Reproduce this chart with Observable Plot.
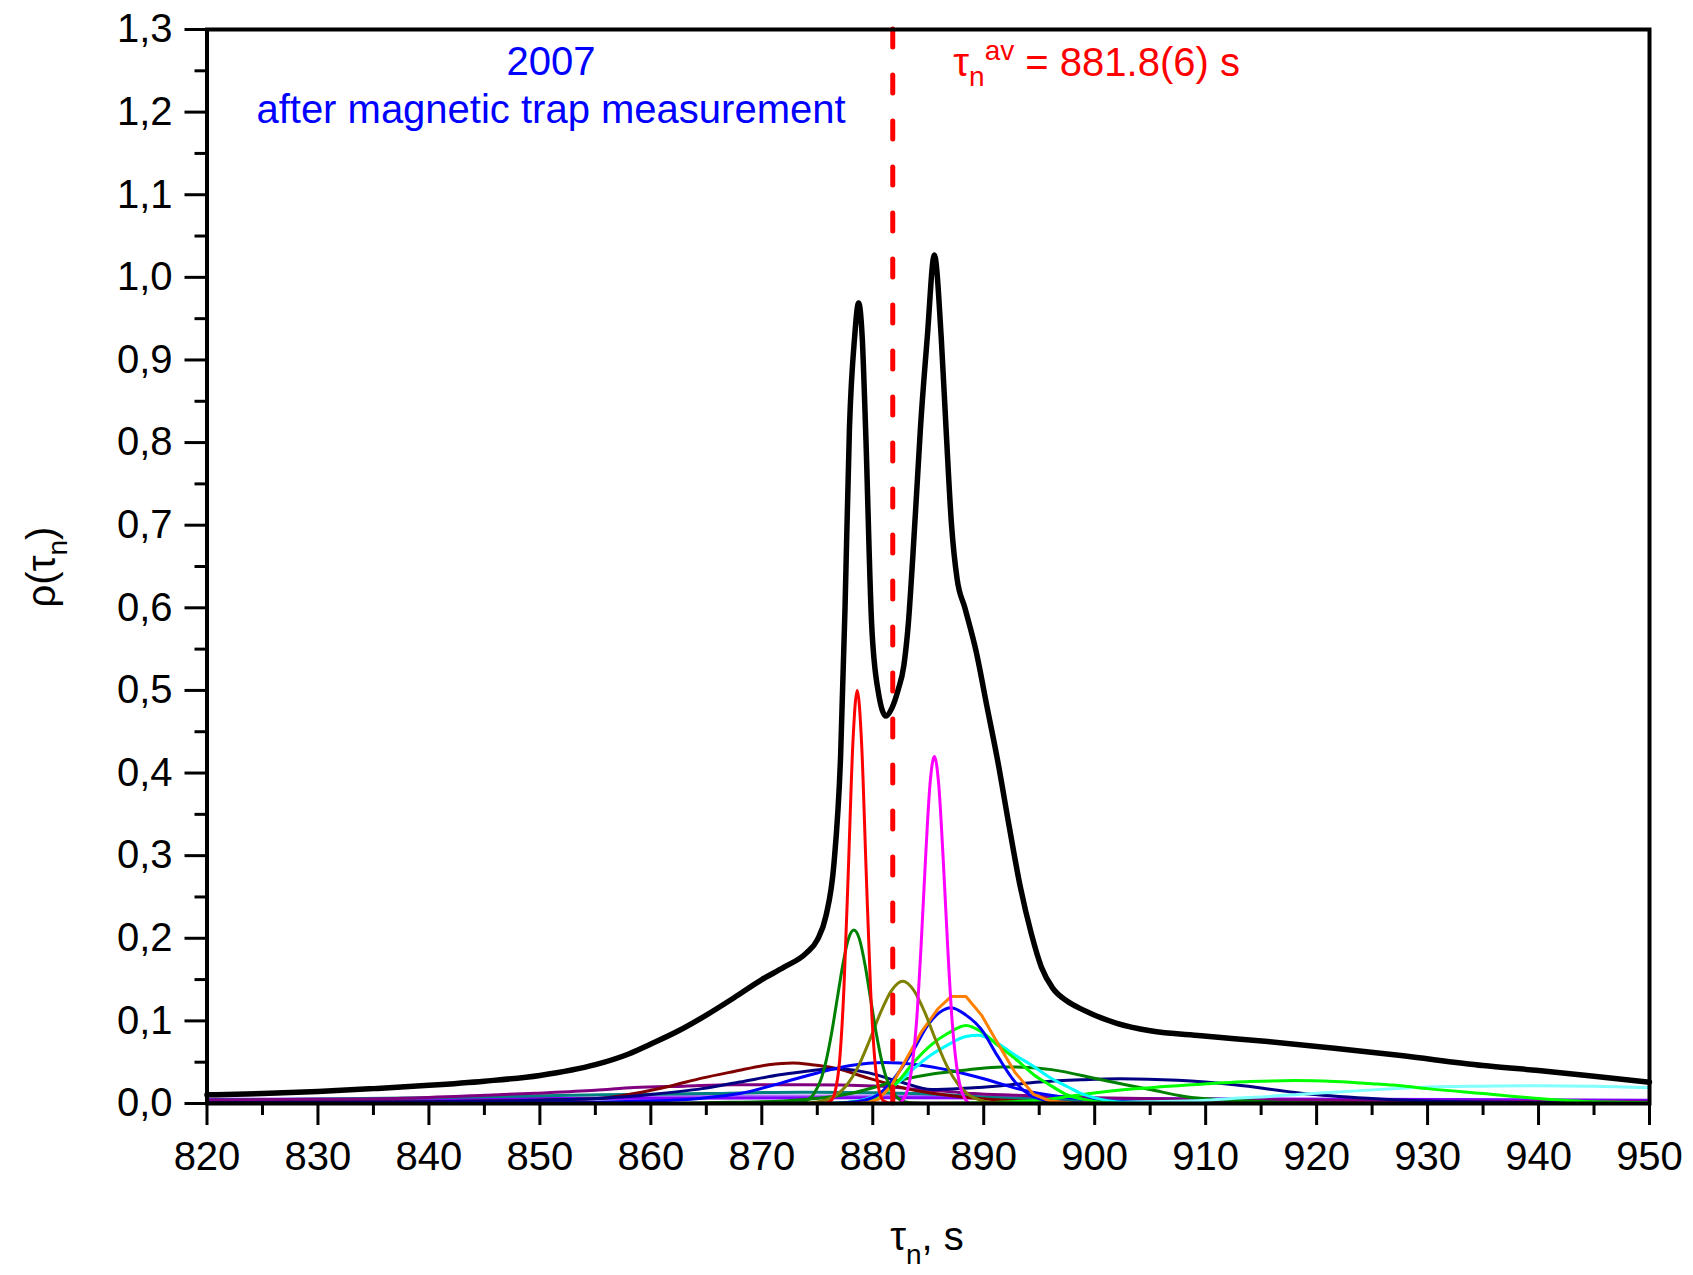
<!DOCTYPE html>
<html><head><meta charset="utf-8">
<script src="https://cdn.jsdelivr.net/npm/d3@7"></script>
<script src="https://cdn.jsdelivr.net/npm/@observablehq/plot@0.6"></script>
<style>html,body{margin:0;padding:0;background:#fff;} svg{display:block}</style>
</head><body><div id="chart"></div><script>
// ---- tick values ----
const xMajorTicks = [820, 830, 840, 850, 860, 870, 880, 890, 900, 910, 920, 930, 940, 950];
const xMinorTicks = [825, 835, 845, 855, 865, 875, 885, 895, 905, 915, 925, 935, 945];
const yMajorTicks = [0, 0.1, 0.2, 0.3, 0.4, 0.5, 0.6, 0.7, 0.8, 0.9, 1.0, 1.1, 1.2, 1.3];
const yMinorTicks = [0.05, 0.15, 0.25, 0.35, 0.45, 0.55, 0.65, 0.75, 0.85, 0.95, 1.05, 1.15, 1.25];
const tauAverage = 881.8;

// ---- series: [tau_n, rho] ----
const sumCurve = [[820,0.0105],[825,0.012],[830,0.0145],[835,0.018],[840,0.022],[845,0.027],[850,0.034],[855,0.047],[858,0.060],[860,0.072],[862.5,0.088],[865,0.107],[867.5,0.128],[870,0.150],[872,0.165],[874,0.182],[875,0.198],[875.8,0.228],[876.5,0.29],[877.1,0.42],[877.5,0.60],[877.9,0.818],[878.36,0.927],[878.72,0.969],[879.05,0.927],[879.35,0.818],[879.9,0.58],[880.5,0.498],[881.2,0.469],[881.7,0.478],[882.27,0.50],[882.8,0.53],[883.2,0.58],[883.6,0.66],[884.0,0.75],[884.3,0.818],[884.91,0.927],[885.55,1.027],[886.17,0.927],[886.6,0.818],[887.1,0.70],[887.6,0.635],[888.3,0.60],[889.32,0.547],[890.3,0.48],[891.27,0.414],[892.3,0.335],[893.3,0.262],[894.3,0.205],[895.2,0.165],[896.2,0.14],[897.5,0.124],[899,0.113],[902,0.097],[905,0.088],[909.6,0.082],[915.6,0.075],[921.6,0.067],[927.6,0.058],[935,0.046],[940,0.040],[945,0.033],[950,0.0257]];
const redPeak = [[820,0],[875.5,0],[876.2,0.003],[876.6,0.014],[877.0,0.05],[877.4,0.139],[877.8,0.283],[878.2,0.434],[878.6,0.50],[879.0,0.434],[879.4,0.283],[879.8,0.139],[880.2,0.05],[880.6,0.014],[881.0,0.003],[881.7,0],[950,0]];
const magentaPeak = [[820,0],[882.3,0],[882.75,0.005],[883.15,0.017],[883.55,0.046],[883.95,0.10],[884.35,0.19],[884.75,0.295],[885.15,0.385],[885.55,0.42],[885.95,0.385],[886.35,0.295],[886.75,0.19],[887.15,0.10],[887.55,0.046],[887.95,0.017],[888.35,0.005],[888.8,0],[950,0]];
const greenPeak = [[820,0],[872,0],[873.3,0.0008],[874.3,0.006],[874.8,0.014],[875.3,0.028],[875.8,0.052],[876.3,0.086],[876.8,0.127],[877.3,0.168],[877.8,0.199],[878.3,0.21],[878.8,0.199],[879.3,0.168],[879.8,0.127],[880.3,0.086],[880.8,0.052],[881.3,0.028],[881.8,0.014],[882.3,0.006],[883.3,0.0008],[885,0],[950,0]];
const olivePeak = [[820,0],[873,0],[874.7,0.0013],[875.7,0.004],[876.7,0.010],[877.7,0.023],[878.7,0.045],[879.7,0.076],[880.7,0.110],[881.7,0.137],[882.7,0.148],[883.7,0.137],[884.7,0.110],[885.7,0.076],[886.7,0.045],[887.7,0.023],[888.7,0.010],[889.7,0.004],[890.7,0.0013],[893,0],[950,0]];
const orangePeak = [[820,0],[878.5,0],[879.5,0.001],[880.5,0.005],[881.7,0.022],[883.2,0.058],[884.4,0.087],[885.9,0.115],[887.07,0.1296],[888.4,0.1296],[889.8,0.107],[891.3,0.072],[892.8,0.038],[894.5,0.011],[896,0.003],[898,0.0005],[900,0],[950,0]];
const bluePeak = [[820,0],[876,0],[878.5,0.002],[880.47,0.0105],[881.96,0.031],[883.76,0.067],[884.96,0.095],[886.0,0.110],[887.07,0.116],[888.4,0.107],[889.77,0.09],[891.27,0.057],[892.77,0.027],[894.2,0.010],[896,0.003],[898,0.001],[900,0],[950,0]];
const limePeak = [[820,0],[876,0],[878.5,0.002],[880.77,0.0105],[882.27,0.0266],[883.77,0.051],[885.27,0.071],[886.77,0.085],[888.4,0.0945],[889.77,0.087],[891.3,0.07],[892.77,0.055],[894.6,0.034],[895.77,0.024],[897.6,0.010],[899.1,0.005],[901,0.001],[903,0],[950,0]];
const cyanPeak = [[820,0],[876,0],[879,0.004],[880.77,0.0125],[882.27,0.025],[883.77,0.043],[885.27,0.059],[886.77,0.071],[888.4,0.081],[889.5,0.0825],[891.0,0.075],[892.77,0.059],[894.6,0.044],[895.77,0.033],[897.6,0.020],[899,0.011],[900.6,0.005],[903,0.001],[906,0],[950,0]];
const limeBroad = [[820,0],[885,0],[890,0.001],[895,0.004],[899.1,0.0113],[903.6,0.0178],[909.6,0.0234],[914,0.0265],[918,0.0277],[921.6,0.0266],[925,0.024],[927.6,0.0215],[930,0.018],[935,0.012],[940,0.006],[945,0.002],[950,0.001]];
const cyanBroad = [[820,0],[895,0],[900,0.001],[905,0.002],[910,0.004],[912.6,0.0064],[915,0.008],[918.6,0.0113],[922,0.014],[927.6,0.0185],[930,0.020],[935,0.021],[940,0.0215],[945,0.021],[950,0.019]];
const greenBroad = [[820,0],[862,0],[865,0.001],[870,0.002],[873.6,0.0045],[878.1,0.0125],[882.6,0.0287],[885.5,0.036],[888.6,0.0408],[891.6,0.0443],[893.5,0.044],[896.1,0.041],[900.6,0.0287],[905.1,0.0166],[908.1,0.0085],[912.6,0.004],[918,0.001],[925,0],[950,0]];
const navyBroad = [[820,0.001],[840,0.002],[850,0.004],[855.6,0.0064],[860,0.011],[864.6,0.018],[868,0.026],[871.8,0.035],[874,0.039],[876.5,0.042],[879.3,0.038],[882.3,0.027],[885.3,0.017],[888.3,0.0185],[891.6,0.0215],[895,0.026],[898.8,0.0287],[902.3,0.030],[907.5,0.028],[912.6,0.0226],[918.6,0.0125],[924.6,0.0064],[930,0.003],[940,0.001],[950,0]];
const blueBroad = [[820,0],[850,0.001],[860,0.003],[864.6,0.0064],[868,0.012],[871.8,0.025],[875,0.037],[878,0.046],[881,0.0497],[884,0.047],[887,0.040],[890,0.030],[893,0.018],[896,0.010],[900,0.004],[905,0.001],[910,0],[950,0]];
const maroonBroad = [[820,0.001],[840,0.002],[850,0.004],[855.6,0.0064],[858.5,0.012],[861.6,0.0206],[864.6,0.0307],[867.5,0.0388],[870.6,0.0469],[872.8,0.049],[874.5,0.047],[876.6,0.0428],[879.6,0.0307],[881.1,0.025],[883,0.018],[885.6,0.012],[888,0.008],[892,0.004],[900,0.001],[950,0]];
const purpleBroad = [[820,0.004],[830,0.005],[837.6,0.0064],[845,0.010],[849.6,0.0125],[855,0.016],[858.5,0.0194],[863,0.021],[867.5,0.0226],[873.6,0.0226],[880.8,0.021],[884,0.017],[886.8,0.0145],[889,0.012],[892.8,0.010],[900,0.007],[910,0.005],[930,0.003],[950,0.002]];
const tealBroad = [[820,0.004],[840,0.007],[855.6,0.0105],[865,0.012],[873.6,0.0137],[880,0.013],[885,0.0115],[890,0.008],[895,0.005],[900,0.003],[910,0.0015],[950,0.0005]];
const violetFlat = [[820,0.005],[850,0.006],[880,0.007],[900,0.006],[925,0.005],[950,0.004]];
const lavenderFlat = [[820,0.003],[850,0.006],[870,0.009],[885,0.009],[900,0.005],[950,0.003]];

// ---- styles (kept apart from the data) ----
const components = [
  {data: lavenderFlat, color: "#b070ff", curve: "monotone-x"},
  {data: violetFlat, color: "#8000ff", curve: "monotone-x"},
  {data: tealBroad, color: "#008080", curve: "monotone-x"},
  {data: purpleBroad, color: "#800080", curve: "monotone-x"},
  {data: maroonBroad, color: "#800000", curve: "monotone-x"},
  {data: navyBroad, color: "#000080", curve: "monotone-x"},
  {data: blueBroad, color: "#0000ff", curve: "monotone-x"},
  {data: greenBroad, color: "#008000", curve: "monotone-x"},
  {data: cyanBroad, color: "#80ffff", curve: "monotone-x"},
  {data: limeBroad, color: "#00ff00", curve: "monotone-x"},
  {data: cyanPeak, color: "#00ffff", curve: "monotone-x"},
  {data: limePeak, color: "#00ff00", curve: "monotone-x"},
  {data: bluePeak, color: "#0000ff", curve: "monotone-x"},
  {data: orangePeak, color: "#ff8000", curve: "linear"},
  {data: olivePeak, color: "#808000", curve: "monotone-x"},
  {data: greenPeak, color: "#008000", curve: "monotone-x"},
  {data: magentaPeak, color: "#ff00ff", curve: "monotone-x"},
  {data: redPeak, color: "#ff0000", curve: "monotone-x"}
];

const FONT = "'Liberation Sans', Arial, sans-serif";
const fmtY = d => d.toFixed(1).replace(".", ",");

const chart = Plot.plot({
  width: 1693,
  height: 1275,
  marginLeft: 206.5,
  marginRight: 44,
  marginTop: 29,
  marginBottom: 172,
  style: {fontFamily: FONT, background: "white", color: "black", overflow: "visible"},
  x: {domain: [820, 950]},
  y: {domain: [0, 1.3]},
  marks: [
    ...components.map(c => Plot.line(c.data, {x: d => d[0], y: d => d[1], stroke: c.color, strokeWidth: 3, curve: c.curve})),
    Plot.line(sumCurve, {x: d => d[0], y: d => d[1], stroke: "black", strokeWidth: 5.5, curve: "monotone-x", strokeLinejoin: "round"}),
    Plot.ruleX([tauAverage], {stroke: "#ff0000", strokeWidth: 5, strokeDasharray: "18,28", strokeLinecap: "round"}),
    Plot.text(["2007"], {x: 851, y: 1.260, text: d => d, fill: "#0000ff", fontSize: 40, textAnchor: "middle", fontFamily: FONT}),
    Plot.text(["after magnetic trap measurement"], {x: 851, y: 1.202, text: d => d, fill: "#0000ff", fontSize: 40, textAnchor: "middle", fontFamily: FONT}),
    Plot.axisX({ticks: xMinorTicks, tickSize: 12, tickFormat: () => "", strokeWidth: 3, label: null}),
    Plot.axisX({ticks: xMajorTicks, tickSize: 22, tickPadding: 16, tickFormat: d => String(d), strokeWidth: 3, fontSize: 40, label: null}),
    Plot.axisY({ticks: yMinorTicks, tickSize: 12, tickFormat: () => "", strokeWidth: 3, label: null}),
    Plot.axisY({ticks: yMajorTicks, tickSize: 22, tickPadding: 12.5, tickFormat: fmtY, strokeWidth: 3, fontSize: 40, label: null}),
    Plot.frame({stroke: "black", strokeWidth: 4})
  ]
});

document.getElementById("chart").appendChild(chart);

// ---- rich text labels (sub/superscripts) ----
const svg = d3.select(chart);
const sx = chart.scale("x"), sy = chart.scale("y");

// red annotation
const red = svg.append("text")
  .attr("x", sx.apply(887.3)).attr("y", sy.apply(1.243)).attr("text-anchor", "start")
  .attr("fill", "#ff0000").attr("font-size", 40).attr("font-family", FONT);
red.append("tspan").text("τ");
red.append("tspan").attr("font-size", 28).attr("dy", 10).text("n");
red.append("tspan").attr("font-size", 28).attr("dy", -26).text("av");
red.append("tspan").attr("dy", 16).text(" = 881.8(6) s");

// x axis title
const xt = svg.append("text")
  .attr("x", 927).attr("y", 1250).attr("text-anchor", "middle")
  .attr("fill", "black").attr("font-size", 40).attr("font-family", FONT);
xt.append("tspan").text("τ");
xt.append("tspan").attr("font-size", 28).attr("dy", 14).text("n");
xt.append("tspan").attr("dy", -14).text(", s");

// y axis title
const yt = svg.append("text")
  .attr("transform", "translate(55,567) rotate(-90)").attr("text-anchor", "middle")
  .attr("fill", "black").attr("font-size", 40).attr("font-family", FONT);
yt.append("tspan").text("ρ(τ");
yt.append("tspan").attr("font-size", 28).attr("dy", 12).text("n");
yt.append("tspan").attr("dy", -12).text(")");
</script></body></html>
